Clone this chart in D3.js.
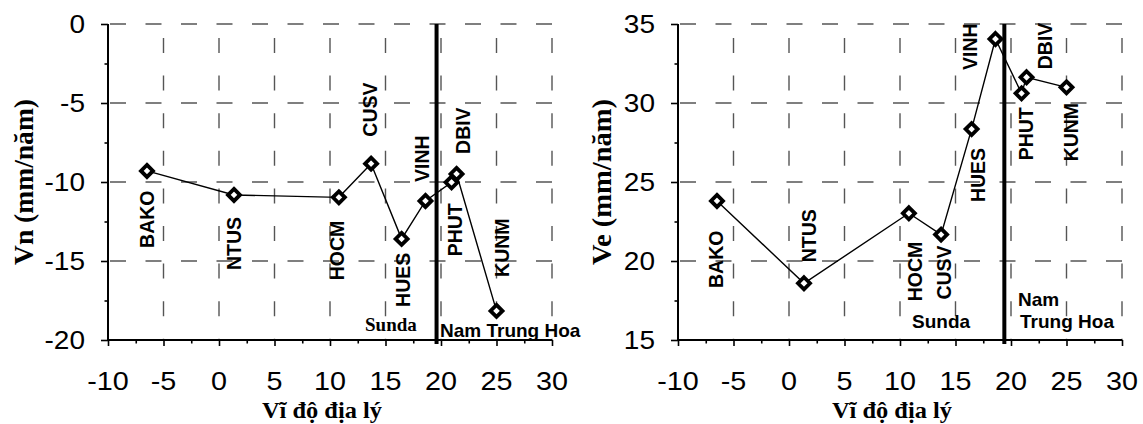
<!DOCTYPE html>
<html>
<head>
<meta charset="utf-8">
<script src="https://cdn.jsdelivr.net/npm/d3@7"></script>
<style>
  html, body { margin: 0; padding: 0; background: #fff; }
  svg { display: block; }
</style>
</head>
<body>
<svg id="chart" width="1143" height="424"></svg>
<script>
// GPS stations, ordered by latitude
const stations  = ["BAKO", "NTUS", "HOCM", "CUSV", "HUES", "VINH", "PHUT", "DBIV", "KUNM"];
const latitude  = [-6.49, 1.35, 10.8, 13.7, 16.45, 18.6, 20.95, 21.4, 25.0];
// north and east velocity components (mm/năm)
const vn = [-9.3, -10.82, -10.97, -8.84, -13.6, -11.2, -10.02, -9.49, -18.16];
const ve = [23.8, 18.59, 23.02, 21.67, 28.35, 34.05, 30.61, 31.63, 30.99];
// axis ticks
const xTicks  = [-10, -5, 0, 5, 10, 15, 20, 25, 30];
const vnTicks = [-20, -15, -10, -5, 0];
const veTicks = [15, 20, 25, 30, 35];
// Sunda / Nam Trung Hoa boundary latitude, one per panel
const plateBoundary = [19.6, 19.4];

const SANS  = "'Liberation Sans', Arial, sans-serif";
const SERIF = "'Liberation Serif', 'Times New Roman', serif";

const svg = d3.select("#chart");

// station label placement, pixel offsets from each marker (baseline x, start y)
const labelOffsetsVn = [[7,77],[7,75],[5,83],[6,-27],[8,68],[4,-19],[10,74],[13,-20],[12,-34]];
const labelOffsetsVe = [[6,87],[12,-21],[13,88],[10,65],[13,73],[-18,31],[11,67],[25,-8],[11,74]];

const panels = [
  {
    ox: 0, values: vn, yDomain: [-20, 0], yTicks: vnTicks, yTitle: "Vn (mm/năm)",
    yTitleX: 33, boundary: plateBoundary[0], labelOffsets: labelOffsetsVn,
    regions: [
      { text: "Sunda", x: 365, y: 331, font: SERIF, size: 19 },
      { text: "Nam Trung Hoa", x: 440, y: 336.5, font: SANS, size: 19 }
    ]
  },
  {
    ox: 570, values: ve, yDomain: [15, 35], yTicks: veTicks, yTitle: "Ve (mm/năm)",
    yTitleX: 41, boundary: plateBoundary[1], labelOffsets: labelOffsetsVe,
    regions: [
      { text: "Sunda", x: 342, y: 327.5, font: SANS, size: 19 },
      { text: "Nam", x: 448, y: 306, font: SANS, size: 19 },
      { text: "Trung Hoa", x: 450, y: 327.5, font: SANS, size: 19 }
    ]
  }
];

const plotTop = 24, plotBottom = 340;
const gridColor = "#555";

panels.forEach(p => {
  const left = p.ox + 108, right = p.ox + 552;
  const x = d3.scaleLinear().domain([-10, 30]).range([left, right]);
  const y = d3.scaleLinear().domain(p.yDomain).range([plotBottom, plotTop]);
  const g = svg.append("g");

  // dashed grid: horizontal at every major y tick except the bottom axis
  g.append("g").selectAll("line").data(p.yTicks.filter(t => t !== p.yDomain[0]))
    .join("line")
    .attr("x1", left).attr("x2", right)
    .attr("y1", d => y(d)).attr("y2", d => y(d))
    .attr("stroke", gridColor).attr("stroke-width", 1.4)
    .attr("stroke-dasharray", "16,19.5").attr("stroke-dashoffset", 33.5);

  // dashed grid: vertical at every major x tick except the left axis
  g.append("g").selectAll("line").data(xTicks.filter(t => t !== -10))
    .join("line")
    .attr("x1", d => x(d)).attr("x2", d => x(d))
    .attr("y1", plotTop).attr("y2", plotBottom)
    .attr("stroke", gridColor).attr("stroke-width", 1.4)
    .attr("stroke-dasharray", "15,22.6").attr("stroke-dashoffset", 23.6);

  // y axis
  const yAxis = g.append("g").attr("transform", `translate(${left},0)`)
    .call(d3.axisLeft(y).tickValues(p.yTicks).tickSize(7).tickFormat(""));
  yAxis.select(".domain").attr("d", `M0,${plotTop}V${plotBottom}`);
  const yMinor = d3.range(p.yDomain[0] + 2.5, p.yDomain[1], 5);
  g.append("g").attr("transform", `translate(${left},0)`)
    .call(d3.axisLeft(y).tickValues(yMinor).tickSize(3.5).tickFormat(""))
    .select(".domain").remove();

  // x axis
  const xAxis = g.append("g").attr("transform", `translate(0,${plotBottom})`)
    .call(d3.axisBottom(x).tickValues(xTicks).tickSize(6).tickFormat(""));
  xAxis.select(".domain").attr("d", `M${left},0H${right}`);
  g.append("g").attr("transform", `translate(0,${plotBottom})`)
    .call(d3.axisBottom(x).tickValues(d3.range(-7.5, 30, 5)).tickSize(3.5).tickFormat(""))
    .select(".domain").remove();

  g.selectAll(".domain").attr("stroke", "#000").attr("stroke-width", 2);
  g.selectAll(".tick line").attr("stroke", "#000").attr("stroke-width", 1.6);

  // tick labels
  g.append("g").selectAll("text").data(p.yTicks).join("text")
    .attr("transform", d => `translate(${left - 23},${y(d) + 9}) scale(1.12,1)`)
    .attr("text-anchor", "end")
    .attr("font-family", SANS).attr("font-size", 25)
    .text(d => d);
  g.append("g").selectAll("text").data(xTicks).join("text")
    .attr("transform", d => `translate(${x(d)},390) scale(1.15,1)`)
    .attr("text-anchor", "middle")
    .attr("font-family", SANS).attr("font-size", 25)
    .text(d => d);

  // axis titles
  g.append("text")
    .attr("transform", `translate(${p.ox + p.yTitleX},${(plotTop + plotBottom) / 2}) rotate(-90)`)
    .attr("text-anchor", "middle")
    .attr("font-family", SERIF).attr("font-weight", "bold").attr("font-size", 27)
    .attr("textLength", 166).attr("lengthAdjust", "spacingAndGlyphs")
    .text(p.yTitle);
  g.append("text")
    .attr("x", p.ox + 322).attr("y", 418)
    .attr("text-anchor", "middle")
    .attr("font-family", SERIF).attr("font-weight", "bold").attr("font-size", 23)
    .attr("textLength", 120).attr("lengthAdjust", "spacingAndGlyphs")
    .text("Vĩ độ địa lý");

  // plate boundary
  g.append("line")
    .attr("x1", x(p.boundary)).attr("x2", x(p.boundary))
    .attr("y1", plotTop).attr("y2", plotBottom + 4)
    .attr("stroke", "#000").attr("stroke-width", 4);

  // region names
  g.append("g").selectAll("text").data(p.regions).join("text")
    .attr("x", d => p.ox + d.x).attr("y", d => d.y)
    .attr("font-family", d => d.font).attr("font-weight", "bold")
    .attr("font-size", d => d.size)
    .text(d => d.text);

  // velocity profile
  const pts = stations.map((s, i) => ({ s, lat: latitude[i], v: p.values[i], off: p.labelOffsets[i] }));
  g.append("path").datum(pts)
    .attr("fill", "none").attr("stroke", "#000").attr("stroke-width", 1.4)
    .attr("d", d3.line().x(d => x(d.lat)).y(d => y(d.v)));

  // diamond markers
  const r = 6;
  g.append("g").selectAll("path").data(pts).join("path")
    .attr("transform", d => `translate(${x(d.lat)},${y(d.v)})`)
    .attr("d", `M0,${-r}L${r},0L0,${r}L${-r},0Z`)
    .attr("fill", "#fff").attr("stroke", "#000").attr("stroke-width", 3.8)
    .attr("stroke-linejoin", "miter");

  // station names
  g.append("g").selectAll("text").data(pts).join("text")
    .attr("transform", d => `translate(${x(d.lat) + d.off[0]},${y(d.v) + d.off[1]}) rotate(-90) scale(1,1.08)`)
    .attr("font-family", SANS).attr("font-weight", "bold").attr("font-size", 19.5)
    .text(d => d.s);
});
</script>
</body>
</html>
